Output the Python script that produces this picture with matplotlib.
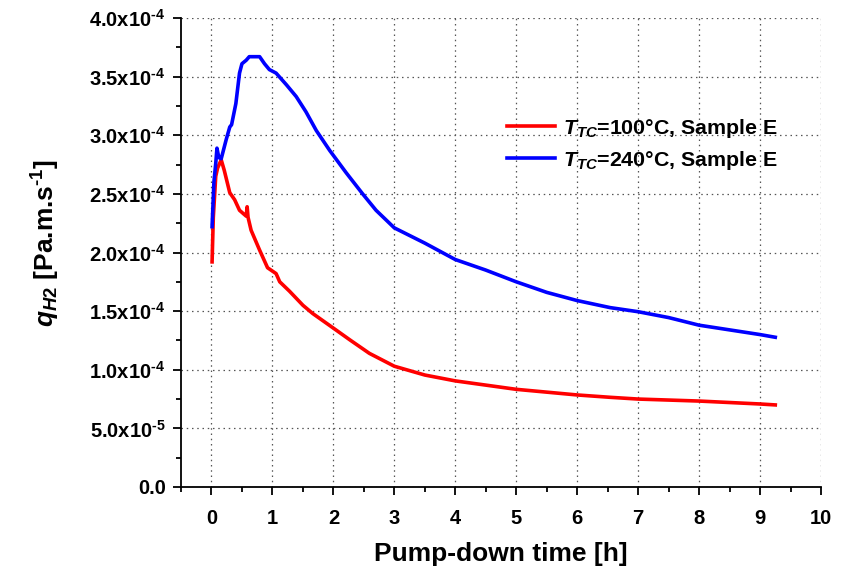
import matplotlib
matplotlib.use("Agg")
import matplotlib.pyplot as plt
from matplotlib.ticker import MultipleLocator

plt.rcParams['font.family'] = ['Liberation Sans', 'DejaVu Sans']
plt.rcParams['font.weight'] = 'bold'
plt.rcParams['mathtext.fontset'] = 'custom'
plt.rcParams['mathtext.rm'] = 'Liberation Sans:bold'
plt.rcParams['mathtext.bf'] = 'Liberation Sans:bold'
plt.rcParams['mathtext.it'] = 'Liberation Sans:bold:italic'
plt.rcParams['mathtext.default'] = 'rm'

# Series: T_TC = 100 C (red)
t_100 = [0.01, 0.03, 0.07, 0.10, 0.16, 0.21, 0.30, 0.38, 0.46, 0.57, 0.585, 0.60, 0.65,
         0.79, 0.92, 1.06, 1.12, 1.28, 1.50, 1.66, 2.0, 2.27, 2.59, 3.0, 3.5, 4.0, 5.0,
         6.0, 6.54, 7.0, 8.0, 9.0, 9.25]
q_100 = [1.92e-4, 2.30e-4, 2.65e-4, 2.72e-4, 2.79e-4, 2.70e-4, 2.51e-4, 2.45e-4, 2.36e-4,
         2.31e-4, 2.39e-4, 2.30e-4, 2.19e-4, 2.02e-4, 1.87e-4, 1.82e-4, 1.75e-4, 1.67e-4,
         1.55e-4, 1.48e-4, 1.355e-4, 1.255e-4, 1.14e-4, 1.03e-4, 0.955e-4, 0.905e-4,
         0.833e-4, 0.785e-4, 0.765e-4, 0.75e-4, 0.733e-4, 0.708e-4, 0.70e-4]

# Series: T_TC = 240 C (blue)
t_240 = [0.01, 0.04, 0.07, 0.09, 0.12, 0.16, 0.24, 0.30, 0.33, 0.40, 0.46, 0.50, 0.57,
         0.62, 0.79, 0.87, 0.95, 1.06, 1.23, 1.39, 1.55, 1.72, 1.94, 2.21, 2.48, 2.70,
         3.0, 3.5, 4.0, 4.5, 5.0, 5.5, 6.0, 6.54, 7.0, 7.5, 8.0, 8.5, 9.0, 9.25]
q_240 = [2.22e-4, 2.60e-4, 2.76e-4, 2.89e-4, 2.81e-4, 2.80e-4, 2.96e-4, 3.07e-4, 3.09e-4,
         3.27e-4, 3.53e-4, 3.61e-4, 3.64e-4, 3.67e-4, 3.67e-4, 3.61e-4, 3.56e-4, 3.53e-4,
         3.43e-4, 3.33e-4, 3.20e-4, 3.04e-4, 2.87e-4, 2.68e-4, 2.50e-4, 2.36e-4, 2.21e-4,
         2.08e-4, 1.94e-4, 1.85e-4, 1.75e-4, 1.66e-4, 1.59e-4, 1.53e-4, 1.495e-4, 1.445e-4,
         1.38e-4, 1.34e-4, 1.30e-4, 1.277e-4]

labels = [r"$\mathit{T}_{\mathit{TC}}$=100°C, Sample E",
          r"$\mathit{T}_{\mathit{TC}}$=240°C, Sample E"]
y_ticks = [0.0, 5e-5, 1e-4, 1.5e-4, 2e-4, 2.5e-4, 3e-4, 3.5e-4, 4e-4]
y_ticklabels = ["0.0", r"5.0x10$^{\text{-}5}$", r"1.0x10$^{\text{-}4}$", r"1.5x10$^{\text{-}4}$",
                r"2.0x10$^{\text{-}4}$", r"2.5x10$^{\text{-}4}$", r"3.0x10$^{\text{-}4}$",
                r"3.5x10$^{\text{-}4}$", r"4.0x10$^{\text{-}4}$"]
x_ticks = list(range(0, 11))

fig = plt.figure(figsize=(8.44, 5.70), dpi=100)
ax = fig.add_axes([181/844, 1-487/570, 640/844, 469/570])

ax.plot(t_100, q_100, color='#ff0000', lw=2.6, label=labels[0])
ax.plot(t_240, q_240, color='#0000ff', lw=2.6, label=labels[1])

ax.set_xlim(-0.5, 10)
ax.set_ylim(0, 4e-4)
ax.set_xticks(x_ticks)
ax.set_xticklabels([str(v) for v in x_ticks])
ax.xaxis.set_minor_locator(MultipleLocator(0.5))
ax.set_yticks(y_ticks)
ax.set_yticklabels(y_ticklabels)
ax.yaxis.set_minor_locator(MultipleLocator(2.5e-5))

for s in ['top', 'right']:
    ax.spines[s].set_visible(False)
for s in ['left', 'bottom']:
    ax.spines[s].set_linewidth(1.3)

ax.tick_params(which='major', direction='out', length=6, width=1.3, labelsize=14.5)
ax.tick_params(axis='x', which='major', pad=10)
ax.tick_params(axis='y', which='major', pad=5)
ax.tick_params(which='minor', direction='out', length=3.5, width=1.3)
ax.grid(True, which='major', linestyle=(0, (1.2, 3)), color='#555555', lw=0.9)

ax.set_xlabel("Pump-down time [h]", fontsize=19, fontweight='bold', labelpad=10)
ax.set_ylabel(r"$\mathit{q}_{\mathit{H2}}$ [Pa.m.s$^{\text{-}1}$]", fontsize=19,
              fontweight='bold', labelpad=20)
ax.yaxis.label.set_y(0.52)

ax.legend(loc='upper left', bbox_to_anchor=(0.48, 0.83), frameon=False,
          fontsize=15.4, handlelength=2.2, handletextpad=0.4, labelspacing=0.4)

fig.savefig("out.png", dpi=100)
